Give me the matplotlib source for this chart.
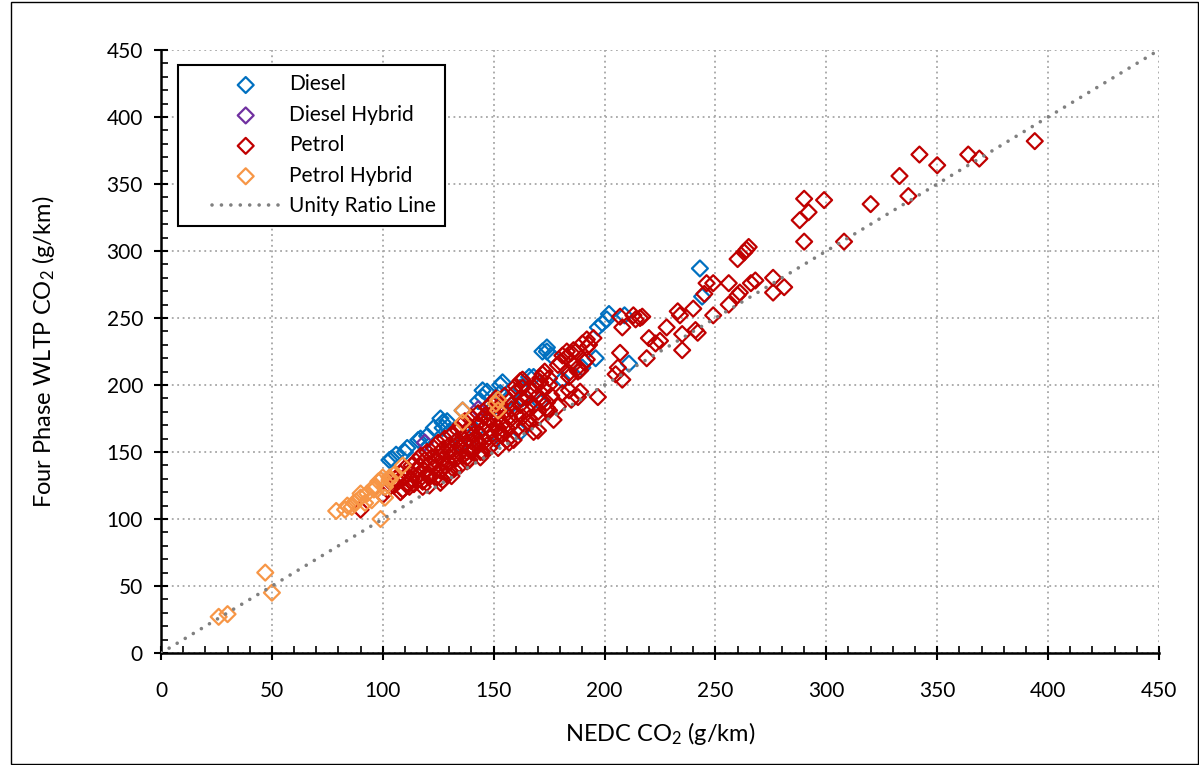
import matplotlib
matplotlib.use('Agg')
import matplotlib.pyplot as plt
from matplotlib.patches import Rectangle
from matplotlib.ticker import MultipleLocator
from matplotlib.legend_handler import HandlerLine2D, HandlerPathCollection

plt.rcParams['font.family'] = ['Lato', 'DejaVu Sans']
plt.rcParams['mathtext.default'] = 'regular'

# NEDC vs WLTP CO2 pairs (g/km), by fuel type
diesel = [(103, 144), (104, 145), (106, 148), (110, 150), (111, 153), (116, 159), (117, 160),
          (120, 162), (123, 168), (126, 175), (127, 172), (127, 168), (129, 173), (130, 165),
          (135, 155), (136, 181), (141, 152), (142, 166), (143, 188), (145, 191), (145, 196),
          (147, 195), (148, 180), (149, 155), (153, 194), (153, 200), (154, 202), (156, 189),
          (158, 185), (162, 165), (162, 198), (163, 190), (166, 206), (168, 206), (171, 187),
          (172, 225), (174, 228), (174, 225), (176, 222), (181, 204), (190, 213), (196, 220),
          (197, 243), (199, 246), (201, 249), (202, 253), (209, 252), (211, 216), (243, 287),
          (244, 266)]

diesel_hybrid = [(119, 157), (143, 182)]

petrol = [
    # upper range
    (394, 382), (342, 372), (350, 364), (364, 372), (369, 369), (333, 356), (337, 341),
    (320, 335), (299, 338), (290, 339), (292, 329), (288, 323), (290, 307), (308, 307),
    (265, 303), (263, 299), (264, 301), (260, 294), (249, 276), (256, 276), (268, 278),
    (266, 276), (276, 280), (281, 273), (276, 269), (260, 267), (256, 260), (240, 257),
    (233, 255), (249, 252), (245, 268), (261, 269),
    # 180 - 250
    (207, 251), (213, 252), (216, 250), (214, 249), (217, 251), (208, 243), (195, 235),
    (192, 228), (187, 225), (183, 221), (191, 217), (186, 215), (180, 217), (207, 224),
    (220, 235), (223, 231), (228, 243), (234, 252), (235, 226), (241, 241), (242, 239),
    (246, 276), (206, 213), (208, 204), (197, 191), (188, 191), (190, 231), (186, 226),
    (181, 222), (189, 211), (184, 206), (183, 225), (188, 213), (179, 215), (189, 195),
    (185, 189), (185, 224), (192, 234), (184, 196), (184, 209), (188, 210), (193, 230),
    (192, 219), (181, 194), (179, 184), (225, 233), (235, 238), (219, 220), (205, 208),
    # main band
    (172, 208), (170, 176), (168, 165), (157, 157), (144, 150), (138, 146), (127, 129),
    (121, 131), (118, 124), (111, 125), (108, 120), (174, 187), (175, 181), (166, 172),
    (170, 166), (159, 159), (153, 163), (152, 153), (143, 158), (135, 154), (130, 150),
    (171, 202), (163, 204), (160, 199), (177, 174), (162, 190), (162, 203), (173, 210),
    (175, 205), (126, 127), (131, 132), (138, 143), (144, 146), (148, 153), (156, 159),
    (118, 128), (109, 122), (112, 124), (121, 125), (126, 131), (130, 136), (140, 150),
    (90, 107), (100, 118), (102, 122), (104, 128),
    (105, 125), (106, 130), (107, 128), (108, 134), (109, 122), (110, 131), (110, 138),
    (111, 127), (112, 135), (113, 140), (113, 130), (114, 126), (115, 137), (115, 143),
    (116, 132), (117, 139), (117, 147), (118, 128), (119, 136), (119, 144), (120, 150),
    (121, 133), (121, 141), (122, 146), (123, 138), (123, 153), (124, 131), (124, 143),
    (125, 149), (125, 157), (126, 136), (127, 145), (127, 152), (128, 140), (128, 160),
    (129, 133), (129, 148), (130, 155), (130, 142), (131, 163), (132, 137), (132, 150),
    (133, 158), (133, 145), (134, 166), (135, 140), (135, 153), (135, 170), (136, 147),
    (136, 160), (137, 156), (137, 173), (138, 150), (138, 164), (139, 144), (139, 168),
    (140, 158), (140, 176), (141, 152), (141, 163), (142, 170), (143, 156), (143, 179),
    (144, 162), (144, 173), (145, 150), (145, 167), (146, 158), (146, 177), (147, 170),
    (147, 183), (148, 161), (148, 175), (149, 166), (149, 186), (150, 172), (150, 180),
    (151, 160), (151, 190), (152, 168), (152, 176), (153, 185), (154, 163), (154, 171),
    (155, 180), (155, 192), (156, 168), (157, 176), (157, 188), (158, 162), (158, 182),
    (159, 172), (160, 195), (160, 178), (161, 168), (162, 185), (163, 176), (163, 198),
    (164, 170), (165, 182), (165, 190), (166, 175), (167, 195), (168, 185), (169, 200),
    (170, 180), (170, 192), (171, 205), (172, 188), (173, 197), (174, 183), (175, 200),
    (176, 192)]

petrol_hybrid = [(26, 27), (30, 29), (47, 60), (50, 45), (79, 106), (83, 107), (84, 110),
                 (86, 109), (87, 112), (88, 113), (90, 116), (90, 119), (92, 112), (93, 119),
                 (95, 114), (96, 122), (96, 124), (98, 128), (99, 129), (99, 100), (100, 131),
                 (101, 116), (101, 124), (103, 129), (103, 131), (105, 133), (109, 140),
                 (136, 181), (136, 172), (151, 186), (152, 189), (152, 181)]

unity = [0, 450]

series = [('Diesel', diesel, '#0070C0'),
          ('Diesel Hybrid', diesel_hybrid, '#7030A0'),
          ('Petrol', petrol, '#C00000'),
          ('Petrol Hybrid', petrol_hybrid, '#F79646')]

fig = plt.figure(figsize=(11.99, 7.65), dpi=100)
ax = fig.add_axes([0.1343, 0.1464, 0.8323, 0.7882])

handlers = {}
for name, pts, col in series:
    xs = [p[0] for p in pts]
    ys = [p[1] for p in pts]
    sc = ax.scatter(xs, ys, marker='D', s=66, facecolors='none', edgecolors=col,
                    linewidths=1.6, label=name, zorder=3)
    handlers[sc] = HandlerPathCollection(xpad=1.2)

line, = ax.plot(unity, unity, color='#808080', lw=2.6, ls=(0, (0.01, 2.6)),
                dash_capstyle='round', label='Unity Ratio Line', zorder=4)
handlers[line] = HandlerLine2D(xpad=1.2)

ax.set_xlim(0, 450)
ax.set_ylim(0, 450)
ax.xaxis.set_major_locator(MultipleLocator(50))
ax.yaxis.set_major_locator(MultipleLocator(50))
ax.xaxis.set_minor_locator(MultipleLocator(10))
ax.yaxis.set_minor_locator(MultipleLocator(10))
ax.tick_params(which='major', direction='inout', length=10, width=1.5, labelsize=15)
ax.tick_params(axis='x', which='major', pad=15)
ax.tick_params(axis='y', which='major', pad=8)
ax.tick_params(which='minor', direction='in', length=5, width=1.2)
ax.grid(True, which='major', color='#A6A6A6', ls=(0, (1, 2)), lw=1.3)
ax.set_axisbelow(True)
for side in ['top', 'right']:
    ax.spines[side].set_visible(False)
for side in ['left', 'bottom']:
    ax.spines[side].set_linewidth(1.8)

ax.set_xlabel('NEDC CO$_2$ (g/km)', fontsize=17, labelpad=14)
ax.set_ylabel('Four Phase WLTP CO$_2$ (g/km)', fontsize=17, labelpad=36)

leg = ax.legend(loc='upper left', bbox_to_anchor=(0.017, 0.975), borderaxespad=0,
                handler_map=handlers, fontsize=15, scatterpoints=1, handlelength=4.4,
                handletextpad=0.48, labelspacing=0.5, borderpad=0.45,
                fancybox=False, framealpha=1)
leg.get_frame().set_edgecolor('black')
leg.get_frame().set_linewidth(1.5)

# outer border round the whole chart
fig.patches.append(Rectangle((0.009, 0.001), 0.99, 0.997, transform=fig.transFigure,
                             fill=False, ec='black', lw=1))

fig.savefig('out.png', dpi=100)
